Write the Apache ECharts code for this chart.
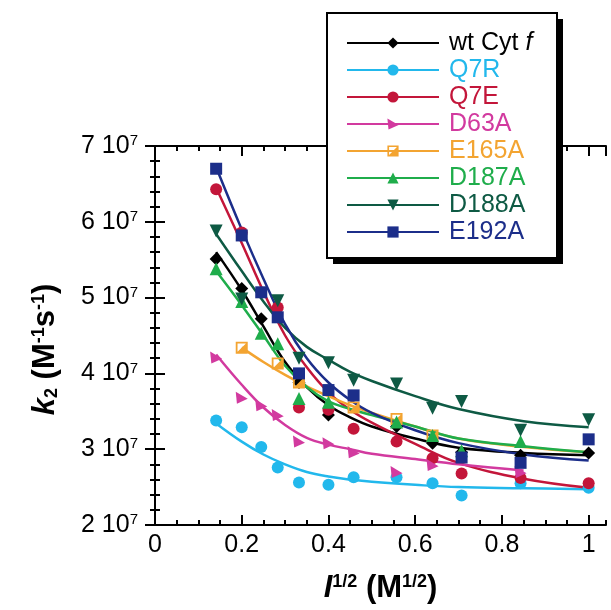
<!DOCTYPE html>
<html>
<head>
<meta charset="utf-8">
<script src="https://cdn.jsdelivr.net/npm/echarts@6/dist/echarts.min.js"></script>
<style>html,body{margin:0;padding:0;background:#fff}#c{width:611px;height:610px}</style>
</head>
<body>
<div id="c"></div>
<script>
// ---- data (k2 values in units of 10^7 M^-1 s^-1) ----
const names = ['wt Cyt f', 'Q7R', 'Q7E', 'D63A', 'E165A', 'D187A', 'D188A', 'E192A'];
const colors = ['#000000', '#22b8ec', '#c3163a', '#d23a9f', '#f3a431', '#1fad4b', '#0e5a44', '#1c2e8a'];

// measured points: x = I^(1/2)
const X = [0.141, 0.2, 0.245, 0.283, 0.332, 0.4, 0.458, 0.557, 0.64, 0.707, 0.843, 1.0];
const wtPts    = [5.51, 5.12, 4.72, null, 3.88, 3.45, null, 3.30, 3.08, 2.96, 2.92, 2.95];
const q7rPts   = [3.38, 3.29, 3.03, 2.76, 2.56, 2.53, 2.63, 2.63, 2.55, 2.39, 2.55, 2.49];
const q7ePts   = [6.43, 5.86, null, 4.87, 3.55, 3.52, 3.27, 3.10, 2.88, 2.68, 2.62, 2.55];
const d63aPts  = [4.21, 3.68, 3.58, 3.45, 3.10, 3.08, 2.96, 2.70, 2.79, null, 2.70, null];
const e165aPts = [null, 4.34, null, 4.13, 3.88, null, 3.55, 3.40, 3.18, null, null, null];
const d187aPts = [5.38, 4.95, 4.53, 4.39, 3.67, 3.62, null, 3.36, 3.18, 2.98, 3.10, null];
const d188aPts = [5.88, 4.98, null, 4.96, 4.20, 4.14, 3.91, 3.86, 3.54, 3.63, 3.25, 3.39];
const e192aPts = [6.70, 5.82, 5.07, 4.74, 4.00, 3.78, 3.71, null, null, 2.89, 2.82, 3.13];

// fitted curves
const CX = [0.141, 0.2, 0.25, 0.3, 0.35, 0.4, 0.45, 0.5, 0.6, 0.7, 0.85, 1.0];
const wtFit    = [5.60, 5.10, 4.62, 4.15, 3.82, 3.58, 3.42, 3.30, 3.14, 3.02, 2.95, 2.92];
const q7rFit   = [3.34, 3.10, 2.93, 2.80, 2.70, 2.64, 2.60, 2.57, 2.53, 2.50, 2.485, 2.47];
const q7eFit   = [6.45, 5.72, 5.08, 4.50, 4.08, 3.75, 3.52, 3.35, 3.07, 2.82, 2.61, 2.49];
const d63aFit  = [4.25, 3.85, 3.55, 3.32, 3.15, 3.06, 3.00, 2.94, 2.87, 2.80, 2.72, null];
const e165aFit = [null, 4.34, 4.15, 3.98, 3.83, 3.70, 3.58, 3.48, 3.30, 3.14, 3.03, 2.96];
const d187aFit = [5.35, 4.90, 4.50, 4.10, 3.82, 3.63, 3.53, 3.45, 3.30, 3.14, 3.04, 2.96];
const d188aFit = [5.84, 5.35, 4.95, 4.60, 4.35, 4.18, 4.02, 3.90, 3.70, 3.53, 3.37, 3.29];
const e192aFit = [6.72, 5.90, 5.25, 4.65, 4.20, 3.88, 3.65, 3.48, 3.25, 3.08, 2.93, 2.85];

const xTickLabels = ['0', '0.2', '0.4', '0.6', '0.8', '1'];
const yTickLabels = ['2', '3', '4', '5', '6', '7'];

const pts = [wtPts, q7rPts, q7ePts, d63aPts, e165aPts, d187aPts, d188aPts, e192aPts];
const fits = [wtFit, q7rFit, q7eFit, d63aFit, e165aFit, d187aFit, d188aFit, e192aFit];
const symbols = ['diamond', 'circle', 'circle', 'path://M0,0 L10,6 L1,10 Z',
  'path://M0,0 H10 V10 H0 Z M1.5,1.5 V8.5 H8.5 V1.5 Z M8.5,1.5 L8.5,8.5 L1.5,8.5 Z',
  'triangle', 'triangle', 'rect'];
const rotates = [0, 0, 0, 0, 0, 0, 180, 0];
const sizes = [13, 12, 12, 12, 12, 13, 13, 12];

const FONT = 'Liberation Sans, Arial, sans-serif';

const series = [];
names.forEach((n, i) => {
  series.push({
    name: n, type: 'line', smooth: 0.4, showSymbol: false,
    symbol: symbols[i], symbolRotate: rotates[i], symbolSize: sizes[i],
    data: CX.map((x, j) => [x, fits[i][j]]),
    lineStyle: { color: colors[i], width: 2.5 },
    itemStyle: { color: colors[i] },
    connectNulls: false, z: 2, silent: true
  });
});
names.forEach((n, i) => {
  series.push({
    name: n + ' pts', type: 'scatter',
    symbol: symbols[i], symbolRotate: rotates[i], symbolSize: sizes[i],
    data: X.map((x, j) => [x, pts[i][j]]).filter(d => d[1] !== null),
    itemStyle: { color: colors[i], opacity: 1 }, z: 3, silent: true
  });
});

const axLine = { show: true, lineStyle: { color: '#000', width: 2 } };
const tickStyle = { color: '#000', width: 2 };
const xFmt = v => {
  const k = Math.round(v / 0.2);
  return Math.abs(v - k * 0.2) < 1e-6 ? xTickLabels[k] || '' : '';
};
const TITLE = 31, SUP = 18;

const chart = echarts.init(document.getElementById('c'));
chart.setOption({
  animation: false,
  backgroundColor: '#fff',
  grid: { left: 155, right: 5, top: 146, bottom: 85 },
  graphic: [
    { type: 'rect', z: 10, silent: true, shape: { x: 333, y: 19, width: 230, height: 245 }, style: { fill: '#000' } },
    { type: 'rect', z: 11, silent: true, shape: { x: 327, y: 13, width: 230, height: 245 }, style: { fill: '#fff', stroke: '#000', lineWidth: 2 } }
  ],
  xAxis: [
    { type: 'value', position: 'bottom', min: 0, max: 1.04, interval: 0.2,
      axisLine: axLine, splitLine: { show: false },
      axisTick: { inside: true, length: 10, lineStyle: tickStyle },
      axisLabel: { fontSize: 25, color: '#000', fontFamily: FONT, margin: 8, formatter: xFmt, showMaxLabel: false },
      name: '{i|I}{sup|1/2}{n| (M}{sup|1/2}{n|)}', nameLocation: 'middle', nameGap: 48,
      nameTextStyle: { fontSize: TITLE, fontWeight: 'bold', fontFamily: FONT, color: '#000',
        rich: { i: { fontSize: TITLE, fontWeight: 'bold', fontStyle: 'italic', fontFamily: FONT },
                n: { fontSize: TITLE, fontWeight: 'bold', fontFamily: FONT },
                sup: { fontSize: SUP, fontWeight: 'bold', verticalAlign: 'top', fontFamily: FONT } } } },
    { type: 'value', position: 'bottom', min: 0, max: 1.04, interval: 0.05,
      axisLine: { show: false }, splitLine: { show: false },
      axisTick: { inside: true, length: 5, lineStyle: tickStyle }, axisLabel: { show: false } },
    { type: 'value', position: 'top', min: 0, max: 1.04, interval: 0.2,
      axisLine: axLine, splitLine: { show: false },
      axisTick: { inside: true, length: 10, lineStyle: tickStyle }, axisLabel: { show: false } },
    { type: 'value', position: 'top', min: 0, max: 1.04, interval: 0.05,
      axisLine: { show: false }, splitLine: { show: false },
      axisTick: { inside: true, length: 5, lineStyle: tickStyle }, axisLabel: { show: false } }
  ],
  yAxis: [
    { type: 'value', position: 'left', min: 2, max: 7, interval: 1,
      axisLine: axLine, splitLine: { show: false },
      axisTick: { inside: true, length: 10, lineStyle: tickStyle },
      minorTick: { show: true, splitNumber: 5, length: 5, lineStyle: tickStyle },
      minorSplitLine: { show: false },
      axisLabel: { fontSize: 25, color: '#000', fontFamily: FONT, margin: 17,
        formatter: v => yTickLabels[Math.round(v) - 2] + ' 10{s|7}',
        rich: { s: { fontSize: 15, verticalAlign: 'top', color: '#000', fontFamily: FONT } } },
      name: '{k|k}{sub|2}{n| (M}{sup|-1}{n|s}{sup|-1}{n|)}', nameLocation: 'middle', nameGap: 94, nameRotate: 90,
      nameTextStyle: { fontSize: TITLE, fontWeight: 'bold', fontFamily: FONT, color: '#000', padding: [0, 28, 0, 0],
        rich: { k: { fontSize: TITLE, fontWeight: 'bold', fontStyle: 'italic', fontFamily: FONT },
                n: { fontSize: TITLE, fontWeight: 'bold', fontFamily: FONT },
                sub: { fontSize: SUP, fontWeight: 'bold', verticalAlign: 'bottom', fontFamily: FONT },
                sup: { fontSize: SUP, fontWeight: 'bold', verticalAlign: 'top', fontFamily: FONT } } } },
    { type: 'value', position: 'right', min: 2, max: 7, interval: 1,
      axisLine: axLine, splitLine: { show: false },
      axisTick: { inside: true, length: 10, lineStyle: tickStyle },
      minorTick: { show: true, splitNumber: 5, length: 5, lineStyle: tickStyle },
      axisLabel: { show: false } }
  ],
  legend: {
    orient: 'vertical', left: 327, top: 13, z: 12,
    itemWidth: 92, itemHeight: 14, itemGap: 2,
    padding: [17.5, 0, 0, 19],
    selectedMode: false,
    textStyle: { fontSize: 25, lineHeight: 25, fontFamily: FONT, padding: [0, 0, 0, 5],
      rich: { it: { fontSize: 25, fontStyle: 'italic', fontFamily: FONT, color: '#000' } } },
    formatter: n => n === 'wt Cyt f' ? 'wt Cyt {it|f}' : n,
    data: names.map((n, i) => ({ name: n, textStyle: { color: colors[i] } }))
  },
  series: series
});
</script>
</body>
</html>
